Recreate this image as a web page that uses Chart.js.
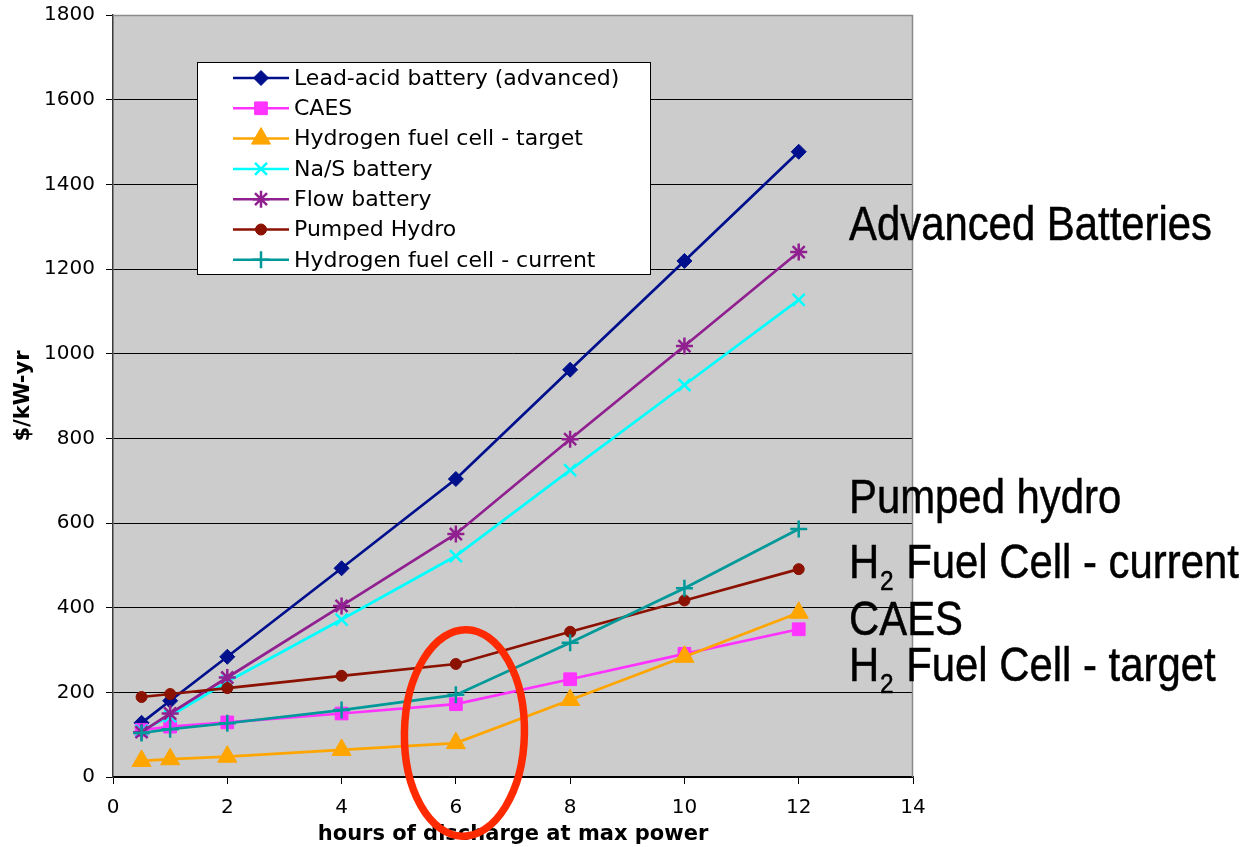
<!DOCTYPE html>
<html><head><meta charset="utf-8">
<script src="https://cdn.jsdelivr.net/npm/chart.js@4.4.1/dist/chart.umd.min.js"></script>
<style>html,body{margin:0;padding:0;background:#fff;overflow:hidden}</style>
</head><body>
<canvas id="c" width="1247" height="847" style="display:block;width:1247px;height:847px"></canvas>
<script>
// ---- data ----
const hours = [0.5, 1, 2, 4, 6, 8, 10, 12];
const seriesLabels = ['Lead-acid battery (advanced)', 'CAES', 'Hydrogen fuel cell - target', 'Na/S battery', 'Flow battery', 'Pumped Hydro', 'Hydrogen fuel cell - current'];
const leadAcid  = [128, 180, 284, 493, 704, 962, 1219, 1477];
const caes      = [111, 119, 129, 150, 172, 231, 291, 349];
const h2Target  = [38, 42, 48, 64, 80, 182, 284, 388];
const naS       = [109, 144, 225, 372, 522, 725, 926, 1127];
const flow      = [106, 150, 235, 404, 574, 798, 1018, 1240];
const pumped    = [189, 196, 210, 239, 267, 343, 417, 491];
const h2Current = [104, 113, 127, 158, 194, 317, 446, 586];
const seriesValues = [leadAcid, caes, h2Target, naS, flow, pumped, h2Current];
const xTickValues = [0, 2, 4, 6, 8, 10, 12, 14];
const yTickValues = [0, 200, 400, 600, 800, 1000, 1200, 1400, 1600, 1800];
const xTitle = 'hours of discharge at max power';
const yTitle = '$/kW-yr';
const sideNotes = ['Advanced Batteries', 'Pumped hydro', 'H|2| Fuel Cell - current', 'CAES', 'H|2| Fuel Cell - target'];
// highlight ellipse (data units)
const highlightCenter = {x: 6.15, y: 104};
const highlightRadius = {x: 1.05, y: 244};

// ---- styles ----
const colors = ['#000f8c', '#ff33ff', '#ffa500', '#00ffff', '#902090', '#8b1100', '#009999'];
const pointStyles = ['rectRot', 'rect', 'triangle', 'crossRot', 'star', 'circle', 'cross'];
const pointRadii = [7.5, 9, 11, 8.5, 8.5, 5.5, 8.5];
const pointBorderW = [1, 1, 1, 2.5, 2.5, 1, 2.5];

const datasets = seriesLabels.map((label, i) => ({
  label,
  data: hours.map((h, j) => ({x: h, y: seriesValues[i][j]})),
  borderColor: colors[i],
  backgroundColor: colors[i],
  pointBackgroundColor: colors[i],
  pointBorderColor: colors[i],
  pointStyle: pointStyles[i],
  pointRadius: pointRadii[i],
  pointBorderWidth: pointBorderW[i],
  borderWidth: 2.7,
  tension: 0,
  fill: false,
  order: seriesLabels.length - i
}));

const FONT = "'DejaVu Sans', Verdana, sans-serif";
const NARROW = "'Liberation Sans', Arial, sans-serif";

const bgPlugin = {
  id: 'bg',
  beforeDraw(chart) {
    const {ctx, chartArea: a} = chart;
    ctx.save();
    ctx.fillStyle = '#ffffff';
    ctx.fillRect(0, 0, chart.width, chart.height);
    ctx.fillStyle = '#cccccc';
    ctx.fillRect(a.left, a.top, a.right - a.left, a.bottom - a.top);
    ctx.restore();
  },
  beforeDatasetsDraw(chart) {
    const {ctx, chartArea: a} = chart;
    ctx.save();
    ctx.strokeStyle = '#8a8a8a';
    ctx.lineWidth = 1.5;
    ctx.beginPath();
    ctx.moveTo(a.left, a.top + 0.5);
    ctx.lineTo(a.right - 0.5, a.top + 0.5);
    ctx.lineTo(a.right - 0.5, a.bottom);
    ctx.stroke();
    ctx.restore();
  }
};

function drawMarker(ctx, ds, x, y) {
  const opts = {pointStyle: ds.pointStyle, radius: ds.pointRadius, borderWidth: ds.pointBorderWidth, rotation: 0};
  ctx.fillStyle = ds.pointBackgroundColor;
  ctx.strokeStyle = ds.pointBorderColor;
  ctx.lineWidth = ds.pointBorderWidth;
  if (Chart.helpers && Chart.helpers.drawPoint) Chart.helpers.drawPoint(ctx, opts, x, y);
}

const overlayPlugin = {
  id: 'overlay',
  afterDraw(chart) {
    const {ctx} = chart;
    const xs = chart.scales.x, ys = chart.scales.y;
    ctx.save();
    // ---- legend ----
    const lx = 197, ly = 62, lw = 453, lh = 212;
    ctx.fillStyle = '#ffffff';
    ctx.fillRect(lx, ly, lw, lh);
    ctx.strokeStyle = '#000';
    ctx.lineWidth = 1;
    ctx.strokeRect(lx + 0.5, ly + 0.5, lw, lh);
    chart.data.datasets.forEach((ds, i) => {
      const cy = 78 + i * 30.3;
      ctx.strokeStyle = ds.borderColor;
      ctx.lineWidth = 2.5;
      ctx.beginPath();
      ctx.moveTo(233, cy);
      ctx.lineTo(289, cy);
      ctx.stroke();
      drawMarker(ctx, ds, 261, cy);
      ctx.fillStyle = '#000';
      ctx.font = '22px ' + FONT;
      ctx.textBaseline = 'middle';
      ctx.textAlign = 'left';
      ctx.fillText(ds.label, 294, cy + 1);
    });
    // ---- side notes ----
    ctx.font = '48px ' + NARROW;
    const ref = ctx.measureText(sideNotes[0]).width;
    const sx = 363 / ref;
    const baselines = [240, 513, 578, 635, 681];
    ctx.fillStyle = '#000';
    ctx.strokeStyle = '#000';
    ctx.lineWidth = 0.5;
    ctx.textBaseline = 'alphabetic';
    sideNotes.forEach((note, i) => {
      ctx.save();
      ctx.scale(sx, 1);
      let x = 849 / sx;
      const parts = note.split('|');
      parts.forEach((p, k) => {
        if (k % 2 === 1) {
          ctx.font = '28px ' + NARROW;
          ctx.fillText(p, x + 1, baselines[i] + 12);
          ctx.strokeText(p, x + 1, baselines[i] + 12);
          x += ctx.measureText(p).width + 2;
        } else {
          ctx.font = '48px ' + NARROW;
          ctx.fillText(p, x, baselines[i]);
          ctx.strokeText(p, x, baselines[i]);
          x += ctx.measureText(p).width;
        }
      });
      ctx.restore();
    });
    // ---- highlight ellipse ----
    const cx = xs.getPixelForValue(highlightCenter.x);
    const cy = ys.getPixelForValue(highlightCenter.y);
    const rx = Math.abs(xs.getPixelForValue(highlightCenter.x + highlightRadius.x) - cx);
    const ry = Math.abs(ys.getPixelForValue(highlightCenter.y + highlightRadius.y) - cy);
    ctx.strokeStyle = '#ff2a00';
    ctx.lineWidth = 7.5;
    ctx.beginPath();
    ctx.ellipse(cx, cy, rx, ry, 0.02, 0, Math.PI * 2);
    ctx.stroke();
    ctx.restore();
  }
};

new Chart(document.getElementById('c'), {
  type: 'line',
  data: {datasets},
  options: {
    responsive: false,
    animation: false,
    events: [],
    layout: {padding: {left: 0, top: 15, right: 334, bottom: 0}},
    plugins: {legend: {display: false}, tooltip: {enabled: false}},
    scales: {
      x: {
        type: 'linear', min: 0, max: 14,
        afterBuildTicks(s) { s.ticks = xTickValues.map(v => ({value: v})); },
        ticks: {color: '#000', font: {family: FONT, size: 20}, padding: 12, maxRotation: 0, autoSkip: false, callback: v => String(v)},
        grid: {drawOnChartArea: false, color: '#000', tickLength: 7, tickWidth: 1},
        border: {color: '#000', width: 1.5},
        title: {display: true, text: xTitle, color: '#000', font: {family: FONT, size: 21, weight: 'bold'}, padding: {top: 0, bottom: 0}},
        afterFit(s) { s.height = 70; s.paddingLeft = 0; s.paddingRight = 0; }
      },
      y: {
        type: 'linear', min: 0, max: 1800,
        afterBuildTicks(s) { s.ticks = yTickValues.map(v => ({value: v})); },
        ticks: {color: '#000', font: {family: FONT, size: 20}, padding: 11, autoSkip: false, callback: v => String(v)},
        grid: {color: '#000', lineWidth: 1, tickLength: 7, tickWidth: 1},
        border: {color: '#3a3a3a', width: 1.5},
        title: {display: true, text: yTitle, color: '#000', font: {family: FONT, size: 21, weight: 'bold'}, padding: {top: 11, bottom: 0}},
        afterFit(s) { s.width = 113; s.paddingTop = 0; s.paddingBottom = 0; }
      }
    }
  },
  plugins: [bgPlugin, overlayPlugin]
});
</script>
</body></html>
